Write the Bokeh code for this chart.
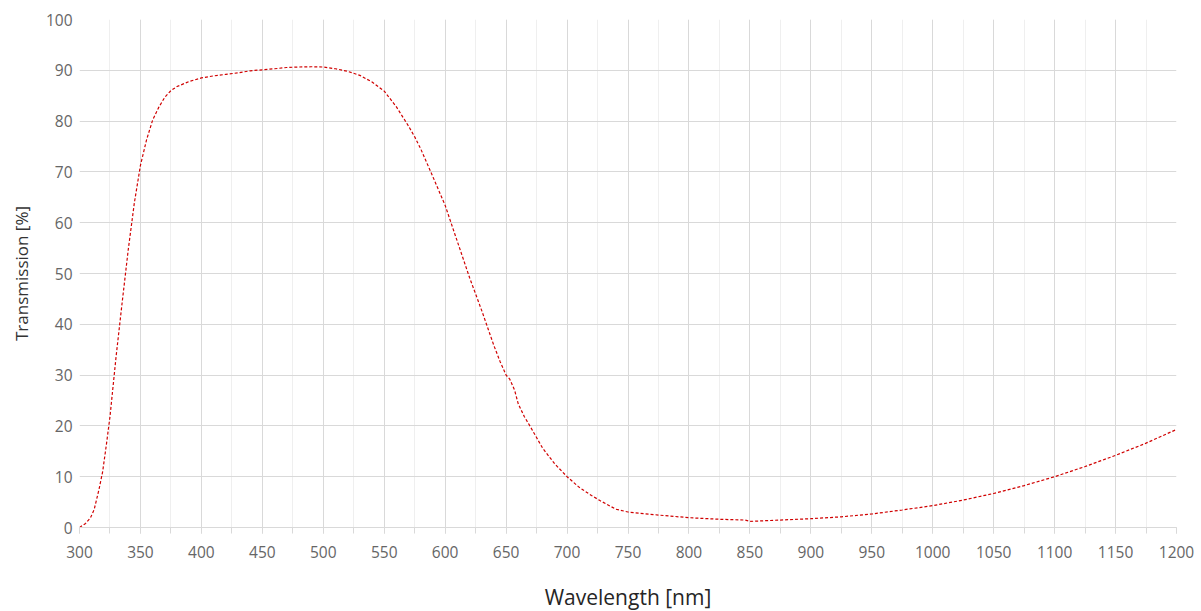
from bokeh.plotting import figure
from bokeh.models import Range1d, FixedTicker
from bokeh.embed import file_html
from bokeh.resources import INLINE

# Data
wavelength = [300, 305, 309, 312, 316, 319, 322, 325, 330, 335, 340, 345, 350, 355,
              360, 365, 370, 375, 380, 390, 400, 410, 420, 430, 440, 450, 460, 470,
              480, 490, 500, 510, 520, 530, 540, 550, 560, 570, 575, 580, 590, 600,
              610, 620, 630, 640, 645, 650, 653, 657, 660, 665, 670, 680, 690, 700,
              710, 720, 727, 740, 750, 760, 775, 800, 825, 846, 850, 875, 900, 925,
              950, 975, 1000, 1025, 1050, 1075, 1100, 1125, 1150, 1175, 1200]
transmission = [0.0, 0.8, 1.9, 3.5, 7.5, 11.0, 16.2, 21.8, 33.6, 44.3, 54.7, 63.9, 71.3, 76.3,
                80.2, 82.7, 84.7, 86.0, 86.8, 87.8, 88.5, 88.9, 89.2, 89.5, 89.9, 90.1, 90.3, 90.55,
                90.65, 90.7, 90.65, 90.3, 89.8, 89.0, 87.7, 85.9, 82.8, 79.0, 76.9, 74.5, 69.0, 63.4,
                56.3, 49.2, 42.7, 35.8, 32.7, 30.0, 29.2, 27.0, 24.3, 21.8, 19.8, 15.6, 12.5, 10.0,
                7.9, 6.3, 5.3, 3.6, 3.05, 2.8, 2.45, 1.93, 1.62, 1.47, 1.2, 1.47, 1.73, 2.1,
                2.66, 3.45, 4.3, 5.4, 6.7, 8.25, 10.0, 12.0, 14.2, 16.6, 19.3]

x_ticks = list(range(300, 1201, 50))
x_minor = list(range(300, 1201, 25))
y_ticks = list(range(0, 101, 10))

FONT = "Open Sans"

p = figure(width=1200, height=610, output_backend="svg", toolbar_location=None,
           x_range=Range1d(300, 1200), y_range=Range1d(0, 100),
           frame_width=1097, frame_height=508,
           min_border_left=79, min_border_right=24, min_border_top=19, min_border_bottom=83)
p.outline_line_color = None
p.background_fill_color = "white"
p.border_fill_color = "white"

p.line(wavelength, transmission, line_color="#D00000", line_width=1.2, line_dash="3 2")

# x axis
xa = p.xaxis[0]
xa.ticker = FixedTicker(ticks=x_ticks, minor_ticks=x_minor)
xa.axis_line_color = "#d9d9d9"
xa.axis_line_width = 1
xa.major_tick_line_color = "#d9d9d9"
xa.minor_tick_line_color = "#d9d9d9"
xa.major_tick_out = 6
xa.major_tick_in = 0
xa.minor_tick_out = 6
xa.minor_tick_in = 0
xa.major_label_text_font = FONT
xa.major_label_text_font_size = "15.5px"
xa.major_label_text_color = "#666666"
xa.major_label_standoff = 12
xa.axis_label = "Wavelength [nm]"
xa.axis_label_text_font = FONT
xa.axis_label_text_font_size = "21px"
xa.axis_label_text_font_style = "normal"
xa.axis_label_text_color = "#262626"
xa.axis_label_standoff = 22

# y axis
ya = p.yaxis[0]
ya.ticker = FixedTicker(ticks=y_ticks)
ya.axis_line_color = None
ya.major_tick_line_color = None
ya.minor_tick_line_color = None
ya.major_tick_out = 0
ya.major_tick_in = 0
ya.major_label_text_font = FONT
ya.major_label_text_font_size = "15.5px"
ya.major_label_text_color = "#666666"
ya.major_label_standoff = 7
ya.axis_label = "Transmission [%]"
ya.axis_label_text_font = FONT
ya.axis_label_text_font_size = "17px"
ya.axis_label_text_font_style = "normal"
ya.axis_label_text_color = "#333333"
ya.axis_label_standoff = 10

# grids
p.xgrid.grid_line_color = "#d9d9d9"
p.xgrid.grid_line_width = 1
p.xgrid.minor_grid_line_color = "#efefef"
p.xgrid.minor_grid_line_width = 1
p.ygrid.grid_line_color = "#d9d9d9"
p.ygrid.grid_line_width = 1

open("out.html", "w").write(file_html(p, INLINE))
